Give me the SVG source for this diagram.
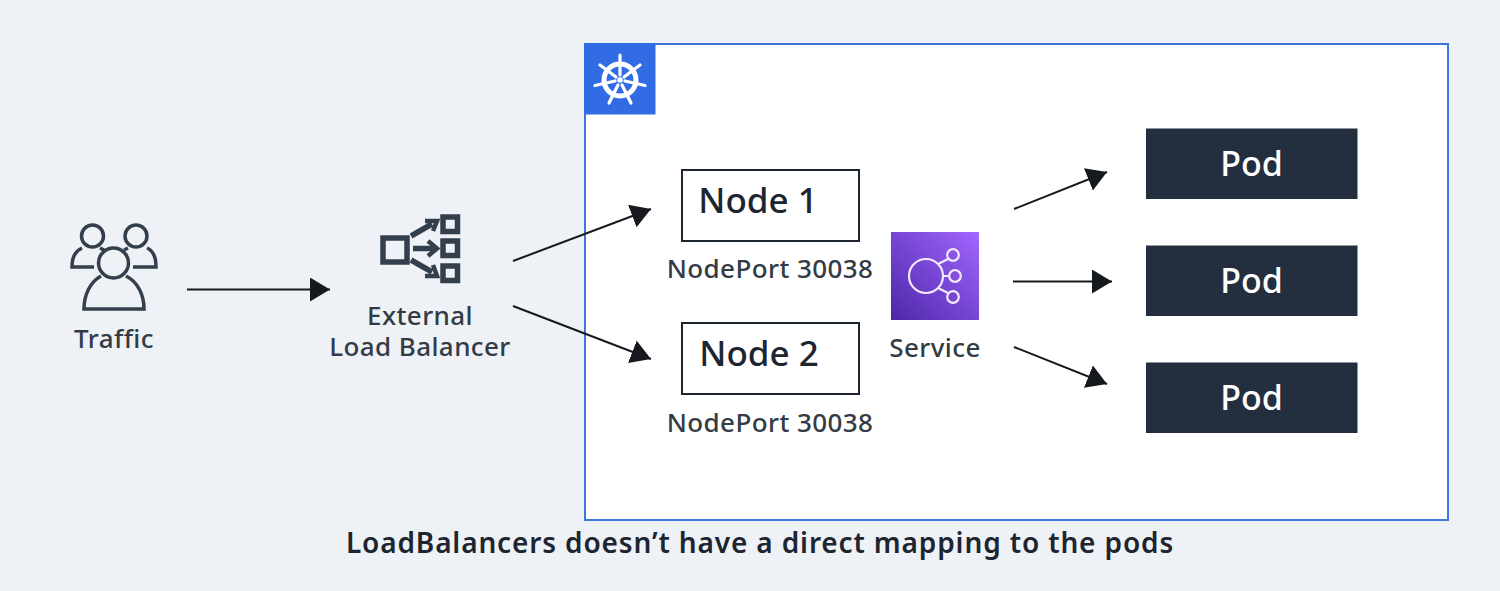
<svg xmlns="http://www.w3.org/2000/svg" width="1500" height="591" viewBox="0 0 1500 591">
<style>
text{font-family:"Noto Sans","Open Sans",sans-serif;text-anchor:middle}
.lbl{font-size:26px;fill:#333b45;letter-spacing:.4px;font-weight:500}
.pod{fill:#232f3e}
.podt{font-size:34px;fill:#fff;font-weight:500}
.nodebox{fill:#fff;stroke:#1d2530;stroke-width:2}
.nodet{font-size:35px;fill:#1d2530;font-weight:500}
.conn{stroke:#16191d;stroke-width:2;fill:none;marker-end:url(#a)}
.ic{fill:none;stroke:#333f4c}
.wheel{fill:none;stroke:#fff;stroke-linecap:round}
</style>
<defs>
<marker id="a" markerUnits="userSpaceOnUse" markerWidth="24" markerHeight="26" refX="20" refY="12" orient="auto"><path d="M0 0L20 12L0 24z" fill="#16191d"/></marker>
<linearGradient id="g" x1="0" y1="1" x2="1" y2="0"><stop offset="0" stop-color="#4d27a8"/><stop offset="1" stop-color="#a166ff"/></linearGradient>
</defs>
<rect width="1500" height="591" fill="#eef2f6"/>
<g id="cluster">
<rect x="585" y="44" width="863" height="476" fill="#fff" stroke="#3f77d8" stroke-width="2"/>
<rect x="584" y="43" width="71.500" height="71.500" fill="#326ce5"/>
<g class="wheel">
<circle cx="620" cy="80" r="16" stroke-width="5"/>
<circle cx="620" cy="80" r="2.800" fill="#fff" stroke-width="0"/>
<path stroke-width="3.200" d="M620 55V75M640 65L624 77M645 85.500L625 81M631 103L622 85M609 103L618 85M595 85.500L615 81M600 65L616 77"/>
</g>
</g>
<g id="traffic">
<g class="ic" stroke-width="3.500">
<circle cx="92.500" cy="236" r="11"/><circle cx="136" cy="236" r="11"/>
<path d="M82 248C75 251 72 258 72 267H94M147 248C154 251 156 258 156 267H133M100 248L104 250M128 248L124 250"/>
<circle cx="113.500" cy="263" r="15"/>
<path d="M101 276C90 282 84 295 84 309H144C144 295 138 282 126 276"/>
</g>
<text x="114" y="348" class="lbl">Traffic</text>
</g>
<g id="load-balancer">
<g class="ic" stroke-width="5.500">
<rect x="383" y="238" width="24" height="24"/>
<rect x="443" y="217" width="14.500" height="14.500"/><rect x="443" y="241" width="14.500" height="14.500"/><rect x="443" y="266" width="14.500" height="14.500"/>
<path d="M411 236L432 224M413 248.500H434M411 260L432 272"/>
<path d="M425 221L437 221L433 231M428 241L437 248.500L428 256M433 265L437 276L425 276" stroke-width="4.500"/>
</g>
<text x="420" y="325" class="lbl">External</text>
<text x="420" y="356" class="lbl">Load Balancer</text>
</g>
<g id="node1">
<rect x="682" y="170" width="177" height="71" class="nodebox"/>
<text x="758" y="213" class="nodet">Node 1</text>
<text x="770" y="278" class="lbl">NodePort 30038</text>
</g>
<g id="node2">
<rect x="682" y="323" width="177" height="71" class="nodebox"/>
<text x="759" y="366" class="nodet">Node 2</text>
<text x="770" y="432" class="lbl">NodePort 30038</text>
</g>
<g id="service">
<rect x="891" y="232" width="88" height="88" fill="url(#g)"/>
<g fill="none" stroke="#f3e9ff" stroke-width="2.200">
<circle cx="926" cy="276" r="17"/>
<circle cx="953" cy="255" r="5.800"/><circle cx="955" cy="276" r="5.800"/><circle cx="953" cy="297" r="5.800"/>
<path d="M938 264L948 259M943 276H949M938 288L948 293"/>
</g>
<text x="935" y="357" class="lbl">Service</text>
</g>
<g id="pod1"><rect x="1146" y="128.500" width="211.500" height="70.500" class="pod"/><text x="1251.500" y="176" class="podt">Pod</text></g>
<g id="pod2"><rect x="1146" y="245.500" width="211.500" height="70.500" class="pod"/><text x="1251.500" y="293" class="podt">Pod</text></g>
<g id="pod3"><rect x="1146" y="362.500" width="211.500" height="70.500" class="pod"/><text x="1251.500" y="410" class="podt">Pod</text></g>
<g id="connectors">
<path class="conn" d="M187 289.500H330"/>
<path class="conn" d="M513 261L651 209"/>
<path class="conn" d="M513 306L651 359"/>
<path class="conn" d="M1014 209L1107 172"/>
<path class="conn" d="M1013 281.500H1112"/>
<path class="conn" d="M1014 347L1107 384"/>
</g>
<text x="760" y="553" font-size="28" font-weight="600" fill="#1d2530" letter-spacing=".86">LoadBalancers doesn’t have a direct mapping to the pods</text>
</svg>
